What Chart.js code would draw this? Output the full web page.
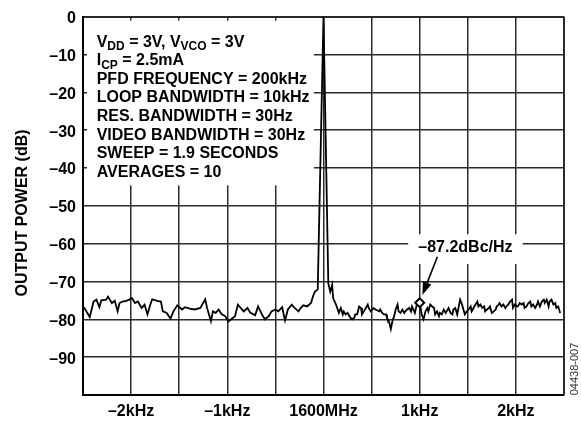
<!DOCTYPE html>
<html lang="en">
<head>
<meta charset="UTF-8">
<title>Output Power vs Offset from 1600MHz Carrier</title>
<script src="https://cdn.jsdelivr.net/npm/chart.js"></script>
<style>
    html, body { margin: 0; padding: 0; background: #fff; }
    #wrap { width: 581px; height: 423px; }
</style>
</head>
<body>
<div id="wrap"><canvas id="specChart" width="581" height="423"></canvas></div>
<script>
    // offset from the 1600MHz carrier, kHz
    const freqKHz = [
        -2.49, -2.43, -2.39, -2.36, -2.33, -2.31, -2.26, -2.24, -2.20, -2.17,
        -2.14, -2.12, -2.09, -2.05, -2.02, -1.99, -1.96, -1.93, -1.89, -1.86,
        -1.83, -1.80, -1.78, -1.73, -1.69, -1.67, -1.63, -1.59, -1.56, -1.52,
        -1.47, -1.44, -1.39, -1.34, -1.28, -1.23, -1.21, -1.17, -1.15, -1.12,
        -1.09, -1.06, -1.02, -0.99, -0.95, -0.92, -0.89, -0.86, -0.83, -0.79,
        -0.76, -0.71, -0.68, -0.64, -0.61, -0.57, -0.54, -0.50, -0.47, -0.43,
        -0.40, -0.37, -0.33, -0.30, -0.26, -0.24, -0.21, -0.17, -0.13, -0.11,
        -0.09, -0.06, 0.00,
        0.05, 0.07, 0.09, 0.10, 0.13, 0.16, 0.18, 0.20, 0.21, 0.23,
        0.25, 0.27, 0.28, 0.30, 0.32, 0.33, 0.35, 0.37, 0.39, 0.40,
        0.42, 0.44, 0.46, 0.47, 0.49, 0.51, 0.52, 0.54, 0.58, 0.59,
        0.61, 0.63, 0.65, 0.66, 0.68, 0.70, 0.72, 0.73, 0.75, 0.77,
        0.78, 0.80, 0.82, 0.84, 0.85, 0.87, 0.89, 0.91, 0.92, 0.95,
        0.97, 1.00, 1.01, 1.02, 1.04, 1.06, 1.08, 1.09, 1.11, 1.13,
        1.15, 1.16, 1.18, 1.20, 1.21, 1.23, 1.25, 1.27, 1.28, 1.30,
        1.32, 1.34, 1.35, 1.37, 1.39, 1.41, 1.42, 1.44, 1.46, 1.47,
        1.49, 1.51, 1.53, 1.54, 1.56, 1.58, 1.60, 1.61, 1.63, 1.65,
        1.67, 1.68, 1.70, 1.72, 1.73, 1.75, 1.77, 1.79, 1.80, 1.82,
        1.83, 1.85, 1.87, 1.89, 1.90, 1.92, 1.94, 1.96, 1.97, 1.99,
        2.01, 2.02, 2.04, 2.06, 2.08, 2.09, 2.11, 2.13, 2.15, 2.16,
        2.18, 2.20, 2.22, 2.23, 2.25, 2.27, 2.29, 2.30, 2.32, 2.34,
        2.35, 2.37, 2.39, 2.41, 2.42, 2.44, 2.46
    ];

    // output power, dB
    const powerDb = [
        -76.8, -79.4, -75.3, -74.8, -76.8, -75.0, -74.8, -74.0, -75.7, -75.1,
        -77.9, -75.7, -75.3, -75.1, -74.8, -74.4, -75.7, -75.3, -77.0, -76.1,
        -78.7, -76.1, -74.7, -75.1, -75.3, -77.9, -78.3, -79.8, -77.9, -76.3,
        -77.4, -76.8, -77.2, -77.4, -77.0, -74.7, -77.0, -80.5, -77.9, -78.3,
        -77.4, -78.6, -79.2, -80.6, -79.8, -79.2, -76.1, -77.0, -77.9, -77.0,
        -78.3, -78.9, -76.6, -78.7, -80.0, -79.2, -77.9, -77.4, -77.9, -76.8,
        -80.3, -77.4, -76.1, -77.0, -77.9, -77.1, -76.3, -76.6, -75.7, -74.0,
        -72.7, -72.1, 0.0,
        -70.5, -72.7, -70.9, -74.4, -76.1, -78.3, -77.0, -78.7, -77.9, -78.7,
        -78.3, -79.2, -79.6, -80.0, -79.6, -78.7, -78.7, -76.6, -77.0, -78.7,
        -77.9, -77.0, -76.1, -77.0, -77.9, -77.4, -77.0, -77.4, -77.9, -77.4,
        -78.3, -78.7, -78.7, -79.6, -80.5, -82.6, -80.0, -79.6, -77.4, -76.1,
        -77.9, -78.3, -77.4, -78.3, -77.9, -77.4, -77.0, -77.9, -76.6, -78.3,
        -76.1, -75.6, -77.0, -78.7, -80.0, -77.9, -77.0, -77.9, -76.1, -76.6,
        -77.0, -78.7, -77.9, -79.2, -78.3, -78.7, -77.4, -78.3, -77.9, -77.0,
        -78.3, -78.7, -77.4, -77.0, -78.7, -76.1, -74.8, -76.1, -77.9, -78.7,
        -77.9, -77.4, -76.6, -77.9, -77.0, -76.1, -75.3, -76.6, -76.1, -77.0,
        -76.6, -77.9, -77.4, -77.0, -76.6, -78.3, -77.9, -77.4, -76.6, -76.1,
        -75.7, -76.6, -76.1, -77.0, -76.6, -76.1, -75.3, -74.8, -77.0, -76.1,
        -76.6, -76.6, -75.7, -76.1, -75.7, -77.0, -76.6, -75.7, -75.3, -76.6,
        -76.1, -77.0, -76.1, -75.3, -76.6, -75.3, -74.8, -75.7, -74.8, -76.6,
        -75.3, -74.8, -76.1, -75.7, -77.0, -76.6, -78.3
    ];

    // marker read-out
    const markerKHz = [1.00];
    const markerDb = [-75.6];
    const markerLabel = '–87.2dBc/Hz';

    // axis tick labels
    const xTickValues = [-2, -1, 0, 1, 2];
    const xTickLabels = ['–2kHz', '–1kHz', '1600MHz', '1kHz', '2kHz'];
    const yTickValues = [0, -10, -20, -30, -40, -50, -60, -70, -80, -90];
    const yTickLabels = ['0', '–10', '–20', '–30', '–40', '–50', '–60', '–70', '–80', '–90'];
    const yTitle = 'OUTPUT POWER (dB)';
    const figCode = '04438-007';

    // test conditions, [text, isSubscript]
    const conditionLines = [
        [['V', 0], ['DD', 1], [' = 3V, V', 0], ['VCO', 1], [' = 3V', 0]],
        [['I', 0], ['CP', 1], [' = 2.5mA', 0]],
        [['PFD FREQUENCY = 200kHz', 0]],
        [['LOOP BANDWIDTH = 10kHz', 0]],
        [['RES. BANDWIDTH = 30Hz', 0]],
        [['VIDEO BANDWIDTH = 30Hz', 0]],
        [['SWEEP = 1.9 SECONDS', 0]],
        [['AVERAGES = 10', 0]]
    ];

    const FONT = '"Liberation Sans", Arial, Helvetica, sans-serif';
    Chart.defaults.font.family = FONT;
    Chart.defaults.color = '#000';

    const pickLabel = (values, labels, v) => {
        const i = values.findIndex(t => Math.abs(t - v) < 1e-6);
        return i >= 0 ? labels[i] : '';
    };

    const notesPlugin = {
        id: 'notes',
        beforeDatasetsDraw(chart) {
            const { ctx, chartArea: a, scales: { x, y } } = chart;
            ctx.save();
            ctx.fillStyle = '#fff';
            // white box behind the conditions text
            const bx = x.getPixelForValue(-0.1);
            const by = y.getPixelForValue(-44.6);
            ctx.fillRect(a.left + 4, a.top + 4, bx - a.left - 4, by - a.top - 4);
            // white box behind the marker read-out
            const x0 = x.getPixelForValue(0.88), x1 = x.getPixelForValue(2.07);
            const y0 = y.getPixelForValue(-57.5), y1 = y.getPixelForValue(-65.4);
            ctx.fillRect(x0, y0, x1 - x0, y1 - y0);
            ctx.restore();
        },
        afterDraw(chart) {
            const { ctx, chartArea: a, scales: { x, y } } = chart;
            ctx.save();
            ctx.fillStyle = '#000';
            ctx.textAlign = 'left';
            ctx.textBaseline = 'alphabetic';

            let lineY = a.top + 30;
            conditionLines.forEach(parts => {
                let cx = a.left + 13.7;
                parts.forEach(([txt, sub]) => {
                    ctx.font = sub ? 'bold 12px ' + FONT : 'bold 16px ' + FONT;
                    ctx.fillText(txt, cx, lineY + (sub ? 3.5 : 0));
                    cx += ctx.measureText(txt).width;
                });
                lineY += 18.6;
            });

            // marker label and arrow
            ctx.font = 'bold 16px ' + FONT;
            ctx.textAlign = 'center';
            ctx.textBaseline = 'middle';
            ctx.fillText(markerLabel, x.getPixelForValue(1.475), y.getPixelForValue(-61.1));

            const mx = x.getPixelForValue(markerKHz[0]);
            const my = y.getPixelForValue(markerDb[0]);
            const tipX = mx + 2.7, tipY = my - 7.7;
            const tailX = mx + 17.7, tailY = my - 46;
            const len = Math.hypot(tailX - tipX, tailY - tipY);
            const ux = (tailX - tipX) / len, uy = (tailY - tipY) / len;
            const headLen = 13, headW = 4.5;
            ctx.strokeStyle = '#000';
            ctx.lineWidth = 1.6;
            ctx.beginPath();
            ctx.moveTo(tailX, tailY);
            ctx.lineTo(tipX + ux * headLen, tipY + uy * headLen);
            ctx.stroke();
            ctx.beginPath();
            ctx.moveTo(tipX, tipY);
            ctx.lineTo(tipX + ux * headLen - uy * headW, tipY + uy * headLen + ux * headW);
            ctx.lineTo(tipX + ux * headLen + uy * headW, tipY + uy * headLen - ux * headW);
            ctx.closePath();
            ctx.fill();

            // y axis title
            ctx.save();
            ctx.translate(22.5, 213);
            ctx.rotate(-Math.PI / 2);
            ctx.font = 'bold 16px ' + FONT;
            ctx.fillText(yTitle, 0, 0);
            ctx.restore();

            // figure code
            ctx.save();
            ctx.translate(chart.width - 6, 369);
            ctx.rotate(-Math.PI / 2);
            ctx.font = '11px ' + FONT;
            ctx.fillStyle = '#333';
            ctx.fillText(figCode, 0, 0);
            ctx.restore();

            ctx.restore();
        }
    };

    const ctx = document.getElementById('specChart').getContext('2d');
    const specChart = new Chart(ctx, {
        type: 'line',
        data: {
            datasets: [
                {
                    label: 'marker',
                    data: markerKHz.map((f, i) => ({ x: f, y: markerDb[i] })),
                    showLine: false,
                    pointStyle: 'rectRot',
                    pointRadius: 4.5,
                    pointBackgroundColor: '#fff',
                    pointBorderColor: '#000',
                    pointBorderWidth: 2,
                    order: 0
                },
                {
                    label: 'Output Power',
                    data: freqKHz.map((f, i) => ({ x: f, y: powerDb[i] })),
                    borderColor: '#000',
                    borderWidth: 1.8,
                    pointRadius: 0,
                    tension: 0,
                    fill: false,
                    order: 1
                }
            ]
        },
        options: {
            responsive: false,
            animation: false,
            devicePixelRatio: 1,
            layout: { padding: { left: 0, top: 11, right: 17, bottom: 0 } },
            plugins: {
                legend: { display: false },
                tooltip: { enabled: false }
            },
            scales: {
                x: {
                    type: 'linear',
                    min: -2.5,
                    max: 2.5,
                    afterFit: s => { s.height = 28; },
                    ticks: {
                        stepSize: 0.5,
                        autoSkip: false,
                        maxRotation: 0,
                        padding: 7,
                        font: { size: 16, weight: 'bold' },
                        callback: v => pickLabel(xTickValues, xTickLabels, v)
                    },
                    grid: {
                        color: '#2a2a2a',
                        lineWidth: c => (c.tick && Math.abs(c.tick.value - 2.5) < 1e-6) ? 2 : 1.5,
                        drawTicks: false
                    },
                    border: { color: '#000', width: 2 }
                },
                y: {
                    min: -100,
                    max: 0,
                    afterFit: s => { s.width = 83; },
                    ticks: {
                        stepSize: 10,
                        padding: 7,
                        labelOffset: 2,
                        font: { size: 16, weight: 'bold' },
                        callback: v => pickLabel(yTickValues, yTickLabels, v)
                    },
                    grid: {
                        color: '#2a2a2a',
                        lineWidth: c => (c.tick && c.tick.value === 0) ? 2 : 1.5,
                        drawTicks: false
                    },
                    border: { color: '#000', width: 2 }
                }
            }
        },
        plugins: [notesPlugin]
    });
</script>
</body>
</html>
